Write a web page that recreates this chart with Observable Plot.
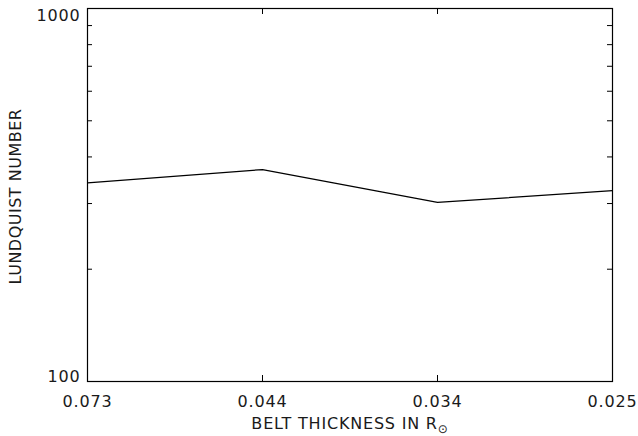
<!DOCTYPE html>
<html>
<head>
<meta charset="utf-8">
<script src="https://cdn.jsdelivr.net/npm/d3@7"></script>
<script src="https://cdn.jsdelivr.net/npm/@observablehq/plot@0.6"></script>
<style>
  html, body { margin: 0; padding: 0; background: #fff; }
</style>
</head>
<body>
<div id="chart"></div>
<script>
// Data
const categories = ["0.073", "0.044", "0.034", "0.025"];
const lundquist = [341, 370, 302, 325];
const yMinorTicks = [200, 300, 400, 500, 600, 700, 800, 900];
const yLabelTop = [1000];
const yLabelBottom = [100];
const xInnerTicks = ["0.044", "0.034"];
const xTitle = "BELT THICKNESS IN R";
const xTitleSub = "\u2299";
const yTitle = "LUNDQUIST NUMBER";

const W = 638, H = 436;
const mL = 87, mR = 26, mT = 8, mB = 55;
const plotW = W - mL - mR, plotH = H - mT - mB;
const tickLen = 5;

const rows = categories.map((c, i) => ({c, v: lundquist[i]}));

const chart = Plot.plot({
  width: W, height: H,
  marginLeft: mL, marginRight: mR, marginTop: mT, marginBottom: mB,
  x: {type: "point", domain: categories, padding: 0, axis: null},
  y: {type: "log", domain: [100, 1000], axis: null},
  style: {fontFamily: "DejaVu Sans", fontSize: "16px", color: "#1a1a1a", background: "#fff", letterSpacing: "0.8px"},
  marks: [
    Plot.frame({stroke: "#000", strokeWidth: 1.2}),
    Plot.tickY(yMinorTicks, {y: d => d, insetRight: plotW - tickLen, stroke: "#000"}),
    Plot.tickY(yMinorTicks, {y: d => d, insetLeft: plotW - tickLen, stroke: "#000"}),
    Plot.tickX(xInnerTicks, {x: d => d, insetTop: plotH - tickLen - 1, stroke: "#000"}),
    Plot.tickX(xInnerTicks, {x: d => d, insetBottom: plotH - tickLen - 1, stroke: "#000"}),
    Plot.line(rows, {x: "c", y: "v", stroke: "#000", strokeWidth: 1.2}),
    Plot.text(yLabelTop, {y: d => d, text: d => String(d), frameAnchor: "left", textAnchor: "end", dx: -7, dy: 1.5, lineAnchor: "top", fill: "#1a1a1a"}),
    Plot.text(yLabelBottom, {y: d => d, text: d => String(d), frameAnchor: "left", textAnchor: "end", dx: -7, lineAnchor: "bottom", fill: "#1a1a1a"}),
    Plot.text(categories, {x: d => d, text: d => d, frameAnchor: "bottom", lineAnchor: "top", dy: 14, fill: "#1a1a1a"}),
    Plot.text([xTitle], {text: d => d, frameAnchor: "bottom", textAnchor: "middle", lineAnchor: "bottom", dy: 47, fill: "#1a1a1a"}),
    Plot.text([yTitle], {text: d => d, frameAnchor: "left", textAnchor: "middle", rotate: -90, lineAnchor: "bottom", dx: -67, dy: 1.5, fill: "#1a1a1a"})
  ]
});

// add the subscript sun symbol to the x title
d3.select(chart).selectAll("text")
  .filter(function() { return this.textContent === xTitle; })
  .each(function() {
    d3.select(this).append("tspan")
      .attr("dy", 4)
      .attr("font-size", 12)
      .text(xTitleSub);
  });
d3.select(chart).selectAll("text")
  .filter(function() { return this.textContent === yTitle; })
  .style("letter-spacing", "0.5px");

document.getElementById("chart").appendChild(chart);
</script>
</body>
</html>
